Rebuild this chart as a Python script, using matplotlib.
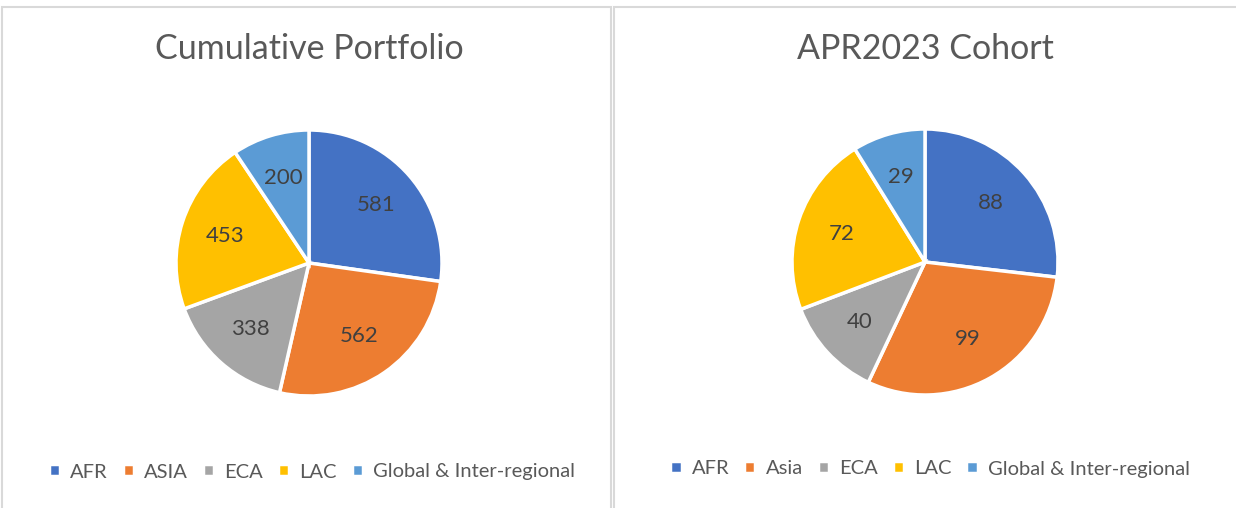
import matplotlib.pyplot as plt
from matplotlib.patches import Rectangle

# data
regions_left = ["AFR", "ASIA", "ECA", "LAC", "Global & Inter-regional"]
regions_right = ["AFR", "Asia", "ECA", "LAC", "Global & Inter-regional"]
cumulative = [581, 562, 338, 453, 200]
cohort = [88, 99, 40, 72, 29]
colors = ["#4472C4", "#ED7D31", "#A5A5A5", "#FFC000", "#5B9BD5"]

plt.rcParams["font.family"] = ["Lato", "DejaVu Sans"]

W, H = 1236, 508
fig = plt.figure(figsize=(W / 100, H / 100), dpi=100)

# panel borders
for x0, x1 in [(2, 611), (614, 1240)]:
    fig.add_artist(Rectangle((x0 / W, -0.05), (x1 - x0) / W, 1.05 - 7 / H,
                             transform=fig.transFigure, fill=False,
                             edgecolor="#D9D9D9", linewidth=1.5))


def draw_pie(cx, cy, values, labels, title, legend_x, legend_y):
    half = 150
    ax = fig.add_axes([(cx - half) / W, (H - cy - half) / H, 2 * half / W, 2 * half / H])
    total = sum(values)
    wedges, _, autotexts = ax.pie(values, colors=colors, startangle=90, counterclock=False,
                                  radius=133 / half,
                                  autopct=lambda p: f"{round(p * total / 100)}",
                                  pctdistance=0.75 * 133 / half,
                                  wedgeprops=dict(edgecolor="white", linewidth=2.5))
    for t in autotexts:
        t.set_fontsize(16)
        t.set_color("#404040")
    ax.set_xlim(-1, 1)
    ax.set_ylim(-1, 1)
    fig.text(cx / W, 1 - 49 / H, title, ha="center", va="center", fontsize=24.5, color="#595959")
    fig.legend(wedges, labels, loc="center", bbox_to_anchor=(legend_x / W, 1 - legend_y / H),
               ncol=5, frameon=False, fontsize=14.5, labelcolor="#595959",
               handlelength=0.55, handleheight=0.55, handletextpad=0.5, columnspacing=0.75)


draw_pie(309, 263, cumulative, regions_left, "Cumulative Portfolio", 312, 472)
draw_pie(925, 262, cohort, regions_right, "APR2023 Cohort", 930, 469)

fig.savefig("out.png", dpi=100)
